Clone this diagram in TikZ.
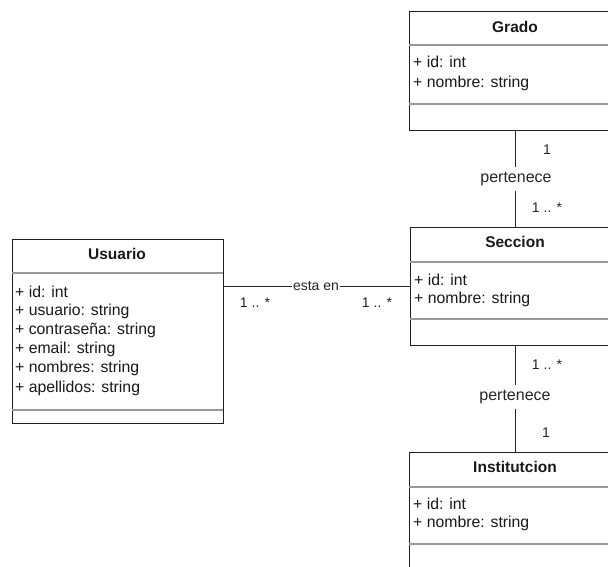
\documentclass[tikz,border=0pt]{standalone}
\usepackage{fontspec}
\setmainfont{Liberation Sans}
\begin{document}
\begin{tikzpicture}[x=1pt,y=-1pt,
  classbox/.style={draw=black!88,line width=1.3pt,fill=white,anchor=north west,inner sep=0pt},
  divider/.style={draw=black!40,line width=1.1pt},
  title/.style={font=\fontsize{15.5}{18}\selectfont\bfseries,inner sep=0pt,text=black!90},
  attr/.style={font=\fontsize{15.8}{18}\selectfont,anchor=west,inner sep=0pt,text=black!90},
  lbl/.style={font=\fontsize{14}{16}\selectfont,inner sep=1pt,text=black!85},
  role/.style={font=\fontsize{16}{18}\selectfont,fill=white,inner xsep=1pt,inner ysep=5pt,text=black!85},
  link/.style={draw=black!85,line width=1pt}]
\useasboundingbox (0,0) rectangle (608,567);
\clip (0,0) rectangle (608,567);
\fill[white] (0,0) rectangle (608,567);

% ---- Grado ----
\node[classbox,minimum width=212pt,minimum height=119pt] (grado) at (409,11) {};
\node[title] (gradoT) at (515,27) {Grado};
\draw[divider] (409,45) -- (621,45);
\node[attr] (g1) at (413,62) {+ id: int};
\node[attr] (g2) at (413,83) {+ nombre: string};
\draw[divider] (409,104) -- (621,104);

% ---- Seccion ----
\node[classbox,minimum width=210pt,minimum height=118pt] (seccion) at (410,227) {};
\node[title] (seccionT) at (515,242) {Seccion};
\draw[divider] (410,262) -- (620,262);
\node[attr] (s1) at (414,280) {+ id: int};
\node[attr] (s2) at (414,299) {+ nombre: string};
\draw[divider] (410,319) -- (620,319);

% ---- Institutcion ----
\node[classbox,minimum width=212pt,minimum height=140pt] (inst) at (409,452) {};
\node[title] (instT) at (515,467) {Institutcion};
\draw[divider] (409,487) -- (621,487);
\node[attr] (i1) at (413,504) {+ id: int};
\node[attr] (i2) at (413,523) {+ nombre: string};
\draw[divider] (409,544) -- (621,544);

% ---- Usuario ----
\node[classbox,minimum width=211pt,minimum height=184pt] (usuario) at (12,239) {};
\node[title] (usuarioT) at (117,254) {Usuario};
\draw[divider] (12,273) -- (223,273);
\node[attr] (u1) at (15,292) {+ id: int};
\node[attr] (u2) at (15,311) {+ usuario: string};
\node[attr] (u3) at (15,330) {+ contraseña: string};
\node[attr] (u4) at (15,349) {+ email: string};
\node[attr] (u5) at (15,368) {+ nombres: string};
\node[attr] (u6) at (15,388) {+ apellidos: string};
\draw[divider] (12,410) -- (223,410);

% ---- Grado -- Seccion ----
\coordinate (gs) at (516,179);
\draw[link] (grado.south) -- (seccion.north);
\node[role] (gsL) at (gs) {pertenece};
\node[lbl] (gsA) at (547,150) {1};
\node[lbl] (gsB) at (547,208) {1 .. *};

% ---- Seccion -- Institutcion ----
\coordinate (si) at (515,397);
\draw[link] (seccion.south) -- (inst.north);
\node[role] (siL) at (si) {pertenece};
\node[lbl] (siA) at (547,365) {1 .. *};
\node[lbl] (siB) at (546,433) {1};

% ---- Usuario -- Seccion ----
\coordinate (us) at (316,286);
\draw[link] (usuario.east |- us) -- (seccion.west |- us);
\node[lbl,fill=white,inner xsep=1pt] (usL) at (us) {esta en};
\node[lbl] (usA) at (255,303) {1 .. *};
\node[lbl] (usB) at (377,303) {1 .. *};
\end{tikzpicture}
\end{document}
